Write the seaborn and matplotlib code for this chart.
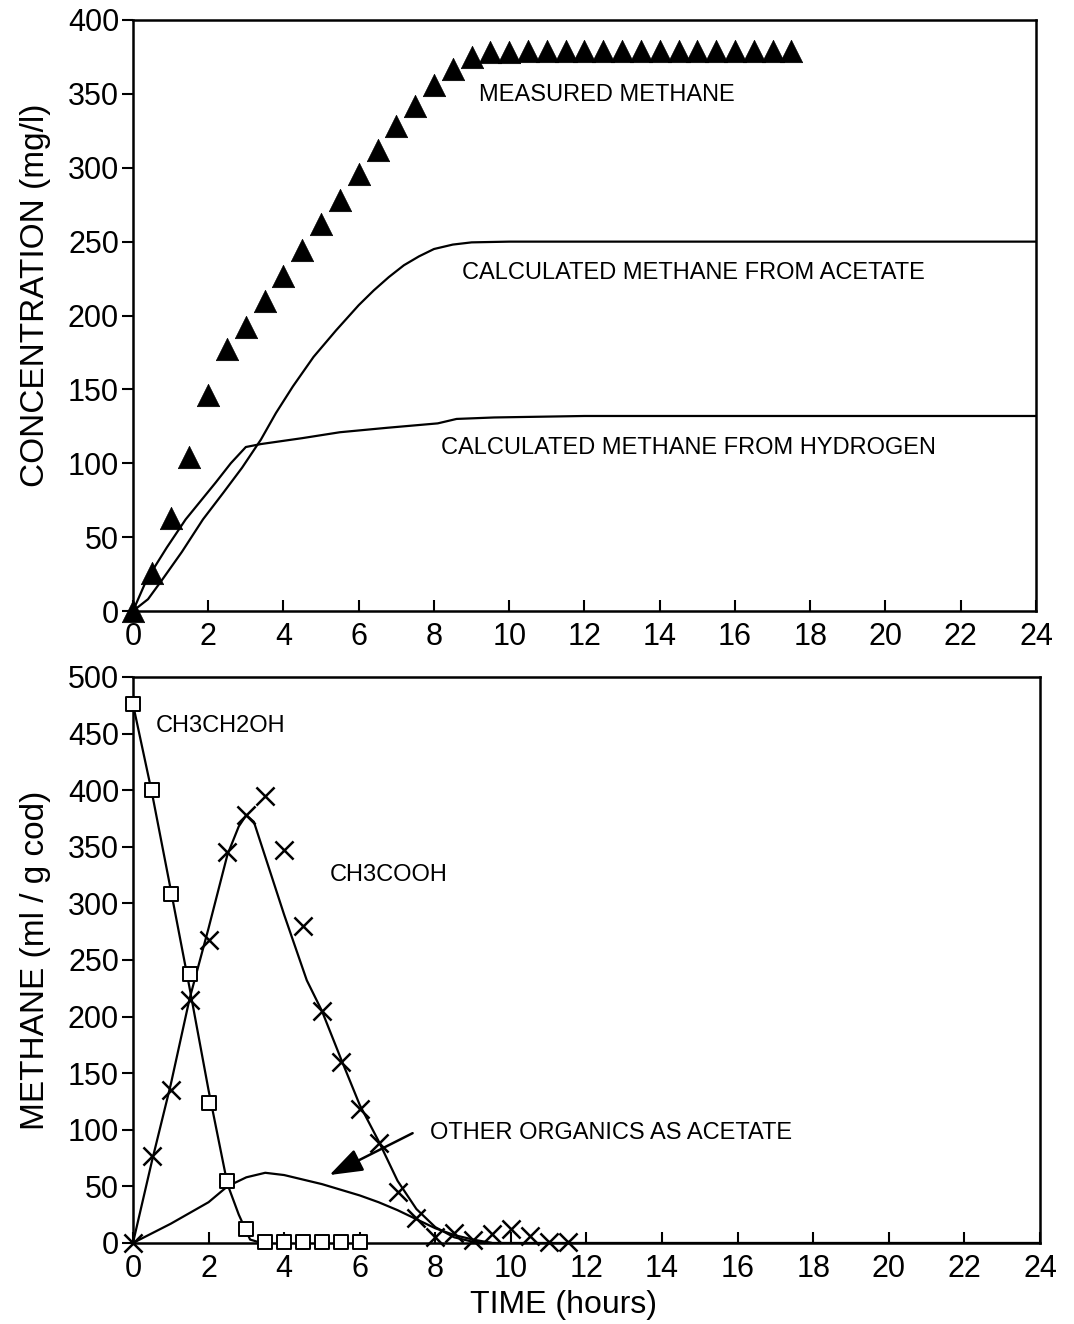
import numpy as np
import pandas as pd
import matplotlib
matplotlib.use("Agg")
import matplotlib.pyplot as plt
import seaborn as sns

# ---------------- data: top panel ----------------
meas_t = [0, 0.5, 1, 1.5, 2, 2.5, 3, 3.5, 4, 4.5, 5, 5.5, 6, 6.5, 7, 7.5, 8, 8.5,
          9, 9.5, 10, 10.5, 11, 11.5, 12, 12.5, 13, 13.5, 14, 14.5, 15, 15.5, 16, 16.5, 17, 17.5]
meas_v = [0, 26, 63, 104, 146, 177, 192, 210, 227, 244, 262, 278, 296, 312, 328, 342, 356, 367,
          375, 378, 378, 379, 379, 379, 379, 379, 379, 379, 379, 379, 379, 379, 379, 379, 379, 379]

acet_t = [0, 0.4, 0.8, 1.3, 1.86, 2.4, 2.9, 3.4, 3.8, 4.25, 4.8, 5.4, 6.0, 6.4, 6.8, 7.2, 7.6,
          8.0, 8.5, 9.0, 10, 12, 16, 20, 24]
acet_v = [0, 8, 22, 40, 62, 80, 97, 116, 134, 152, 172, 190, 207, 217, 226, 234, 240,
          245, 248, 249.5, 250, 250, 250, 250, 250]

hyd_t = [0, 0.36, 0.9, 1.4, 2.2, 2.6, 3.0, 3.4, 4.5, 5.5, 6.75, 8.1, 8.6, 9.6, 12, 16, 20, 24]
hyd_v = [0, 21, 43, 62, 87, 100, 111, 113, 117, 121, 124, 127, 130, 131, 132, 132, 132, 132]

# ---------------- data: bottom panel ----------------
eth_t = [0, 0.5, 1, 1.5, 2, 2.5, 3, 3.5, 4, 4.5, 5, 5.5, 6]
eth_v = [476, 400, 308, 238, 124, 55, 12, 1, 1, 1, 1, 1, 1]
eth_fit_t = [0, 0.5, 1, 1.5, 2, 2.5, 2.8, 3.1, 3.4]
eth_fit_v = [476, 398, 312, 225, 135, 52, 25, 3, 0]

ac_t = [0, 0.5, 1, 1.5, 2, 2.5, 3, 3.5, 4, 4.5, 5, 5.5, 6, 6.5, 7, 7.5, 8, 8.5, 9, 9.5, 10, 10.5, 11, 11.5]
ac_v = [0, 77, 135, 215, 268, 345, 378, 395, 347, 280, 205, 160, 118, 88, 45, 22, 5, 9, 3, 8, 12, 6, 1, 1]
ac_fit_t = [0, 0.5, 1, 1.5, 2, 2.5, 2.8, 3.0, 3.2, 4.0, 4.6, 5.0, 5.5, 6.0, 6.5, 7.0, 7.5, 8.0, 8.5, 9.0, 9.5]
ac_fit_v = [0, 72, 140, 216, 278, 343, 368, 378, 372, 290, 232, 205, 163, 122, 90, 55, 30, 14, 5, 1, 0]

oth_t = [0, 1, 2, 2.5, 3, 3.5, 4, 4.5, 5, 5.5, 6, 6.5, 7, 7.5, 8, 8.5, 9, 9.5, 24]
oth_v = [0, 17, 36, 50, 58, 62, 60, 56, 52, 47, 42, 36, 29, 21, 13, 7, 3, 0, 0]

x_ticks = list(range(0, 25, 2))
top_yticks = list(range(0, 401, 50))
bot_yticks = list(range(0, 501, 50))

# ---------------- style ----------------
sns.set_theme(style="white")
plt.rcParams['font.family'] = ['Liberation Sans', 'DejaVu Sans']
plt.rcParams['text.color'] = 'black'
plt.rcParams['axes.labelcolor'] = 'black'
plt.rcParams['xtick.color'] = 'black'
plt.rcParams['ytick.color'] = 'black'
plt.rcParams['axes.edgecolor'] = 'black'
plt.rcParams['axes.linewidth'] = 1.8

fig = plt.figure(figsize=(10.74, 13.24), dpi=100)
ax1 = fig.add_axes([0.1238, 0.5385, 0.8408, 0.4464])
ax2 = fig.add_axes([0.1238, 0.0612, 0.8445, 0.4275])

ANN = 17

# ---- top ----
sns.lineplot(x=acet_t, y=acet_v, ax=ax1, color='black', linewidth=1.6, sort=False)
sns.lineplot(x=hyd_t, y=hyd_v, ax=ax1, color='black', linewidth=1.6, sort=False)
sns.scatterplot(x=meas_t, y=meas_v, ax=ax1, marker='^', s=260, color='black',
                edgecolor='black', linewidth=0.5, zorder=5, clip_on=False)

ax1.text(9.2, 349, 'MEASURED METHANE', fontsize=ANN, va='center', ha='left')
ax1.text(8.75, 229, 'CALCULATED METHANE FROM ACETATE', fontsize=ANN, va='center', ha='left')
ax1.text(8.2, 110, 'CALCULATED METHANE FROM HYDROGEN', fontsize=ANN, va='center', ha='left')

ax1.set_xlim(0, 24)
ax1.set_ylim(0, 400)
ax1.set_xticks(x_ticks)
ax1.set_yticks(top_yticks)
ax1.set_ylabel('CONCENTRATION (mg/l)', fontsize=24)
ax1.yaxis.set_label_coords(-0.091, 0.535)
ax1.set_xlabel('')

# ---- bottom ----
sns.lineplot(x=eth_fit_t, y=eth_fit_v, ax=ax2, color='black', linewidth=1.6, sort=False)
sns.lineplot(x=ac_fit_t, y=ac_fit_v, ax=ax2, color='black', linewidth=1.6, sort=False)
sns.lineplot(x=oth_t, y=oth_v, ax=ax2, color='black', linewidth=1.6, sort=False)
sns.scatterplot(x=eth_t, y=eth_v, ax=ax2, marker='s', s=115, facecolor='white',
                edgecolor='black', linewidth=1.4, zorder=5, clip_on=False)
sns.scatterplot(x=ac_t, y=ac_v, ax=ax2, marker='x', s=170, color='black',
                linewidth=1.8, zorder=5, clip_on=False)

ax2.text(0.6, 457, 'CH3CH2OH', fontsize=ANN, va='center', ha='left')
ax2.text(5.2, 325, 'CH3COOH', fontsize=ANN, va='center', ha='left')
ax2.text(7.85, 97, 'OTHER ORGANICS AS ACETATE', fontsize=ANN, va='center', ha='left')
ax2.annotate('', xy=(5.2, 60), xytext=(7.4, 97),
             arrowprops=dict(arrowstyle='-|>,head_length=1.7,head_width=0.6',
                             color='black', lw=1.8, shrinkA=0, shrinkB=0))

ax2.set_xlim(0, 24)
ax2.set_ylim(0, 500)
ax2.set_xticks(x_ticks)
ax2.set_yticks(bot_yticks)
ax2.set_ylabel('METHANE (ml / g cod)', fontsize=24)
ax2.yaxis.set_label_coords(-0.090, 0.5)
ax2.set_xlabel('TIME (hours)', fontsize=23)
ax2.xaxis.set_label_coords(0.475, -0.083)

for ax in (ax1, ax2):
    for sp in ax.spines.values():
        sp.set_visible(True)
        sp.set_color('black')
        sp.set_linewidth(1.8)
    ax.tick_params(axis='y', direction='out', length=8, width=1.5, left=True,
                   labelsize=22, pad=2, colors='black')
    ax.tick_params(axis='x', direction='in', length=8, width=1.5, bottom=True,
                   labelsize=22, pad=8, colors='black')
    ax.grid(False)

fig.savefig('out.png', dpi=100, facecolor='white')
